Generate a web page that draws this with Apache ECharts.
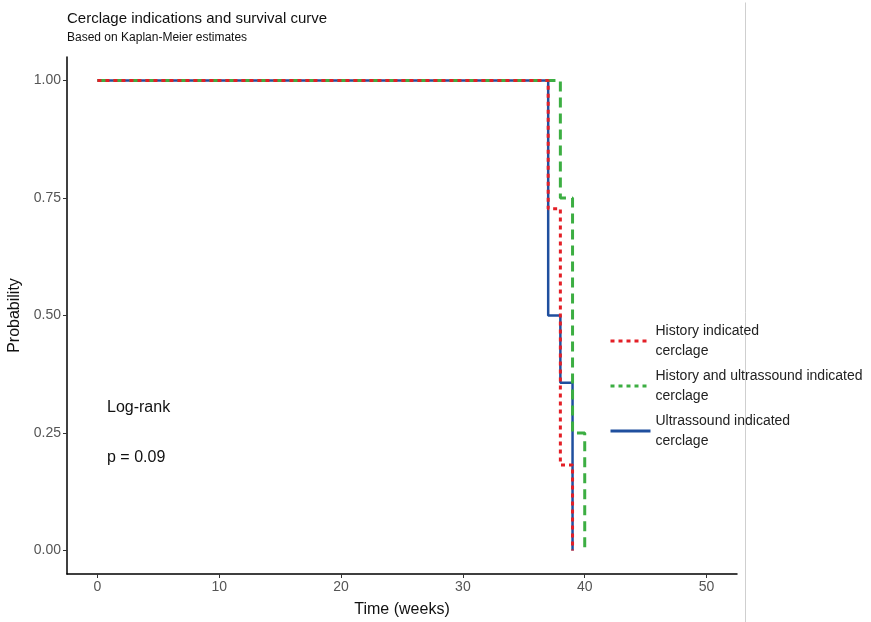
<!DOCTYPE html>
<html>
<head>
<meta charset="utf-8">
<script src="https://cdn.jsdelivr.net/npm/echarts@6/dist/echarts.min.js"></script>
<style>
  html, body { margin: 0; padding: 0; background: #fff; }
  #chart { width: 871px; height: 622px; }
</style>
</head>
<body>
<div id="chart"></div>
<script>
// survival steps: [week, probability]
const historyPts = [[0, 1], [37, 0.727], [38, 0.182], [39, 0]];
const bothPts = [[0, 1], [38, 0.75], [39, 0.25], [40, 0]];
const ultraPts = [[0, 1], [37, 0.5], [38, 0.357], [39, 0]];
const xTicks = [0, 10, 20, 30, 40, 50];
const yTicks = [0, 0.25, 0.5, 0.75, 1];
const seriesNames = [
  'History indicated\ncerclage',
  'History and ultrassound indicated\ncerclage',
  'Ultrassound indicated\ncerclage'
];

const myChart = echarts.init(document.getElementById('chart'));
const font = 'Liberation Sans, Arial, sans-serif';

const option = {
  animation: false,
  title: {
    text: 'Cerclage indications and survival curve',
    subtext: 'Based on Kaplan-Meier estimates',
    left: 62,
    top: 6,
    itemGap: 6,
    textStyle: { fontFamily: font, fontSize: 15, fontWeight: 'normal', color: '#111' },
    subtextStyle: { fontFamily: font, fontSize: 12, color: '#111' }
  },
  grid: { left: 67, right: 134, top: 57, bottom: 48, outerBoundsMode: 'none', containLabel: false },
  legend: {
    orient: 'vertical',
    left: 604,
    top: 316,
    itemWidth: 40,
    itemHeight: 10,
    itemGap: 5,
    itemStyle: { opacity: 0 },
    textStyle: { fontFamily: font, fontSize: 14, color: '#222', lineHeight: 20 },
    data: [
      { name: seriesNames[0], lineStyle: { type: [4, 4], width: 3 } },
      { name: seriesNames[1], lineStyle: { type: [4, 4], width: 3 } },
      { name: seriesNames[2], lineStyle: { type: 'solid', width: 3 } }
    ]
  },
  xAxis: {
    type: 'value',
    min: -2.5,
    max: 52.5,
    name: 'Time (weeks)',
    nameLocation: 'middle',
    nameGap: 28,
    nameTextStyle: { fontFamily: font, fontSize: 16, color: '#111' },
    splitLine: { show: false },
    axisLine: { onZero: false, lineStyle: { color: '#000', width: 1.5 } },
    axisTick: { customValues: xTicks, length: 4, lineStyle: { color: '#333' } },
    axisLabel: { customValues: xTicks, fontFamily: font, fontSize: 14, color: '#555', margin: 6 }
  },
  yAxis: {
    type: 'value',
    min: -0.05,
    max: 1.05,
    name: 'Probability',
    nameLocation: 'middle',
    nameGap: 40,
    nameTextStyle: { fontFamily: font, fontSize: 16, color: '#111' },
    splitLine: { show: false },
    axisLine: { show: true, onZero: false, lineStyle: { color: '#000', width: 1.5 } },
    axisTick: { show: true, customValues: yTicks, length: 4, lineStyle: { color: '#333' } },
    axisLabel: {
      customValues: yTicks, fontFamily: font, fontSize: 14, color: '#555', margin: 6,
      formatter: v => v.toFixed(2)
    }
  },
  series: [
    {
      name: seriesNames[2],
      type: 'line',
      step: 'end',
      data: ultraPts,
      symbol: 'none',
      z: 2,
      lineStyle: { color: '#1f4f9e', width: 2.5 },
      itemStyle: { color: '#1f6fc0' }
    },
    {
      name: seriesNames[1],
      type: 'line',
      step: 'end',
      data: bothPts,
      symbol: 'none',
      z: 3,
      lineStyle: { color: '#3cae42', width: 3, type: [10, 6] },
      itemStyle: { color: '#2aa05a' }
    },
    {
      name: seriesNames[0],
      type: 'line',
      step: 'end',
      data: historyPts,
      symbol: 'none',
      z: 4,
      lineStyle: { color: '#e31f26', width: 3, type: [4, 4] },
      itemStyle: { color: '#c8202a' }
    }
  ],
  graphic: [
    {
      type: 'text', left: 107, top: 400,
      style: { text: 'Log-rank', font: '16px Liberation Sans, Arial, sans-serif', fill: '#111' }
    },
    {
      type: 'text', left: 107, top: 450,
      style: { text: 'p = 0.09', font: '16px Liberation Sans, Arial, sans-serif', fill: '#111' }
    },
    {
      type: 'line', left: 743, top: 0,
      shape: { x1: 0, y1: 0, x2: 0, y2: 622 },
      style: { stroke: '#cfcfcf', lineWidth: 1 }
    }
  ]
};

myChart.setOption(option);
</script>
</body>
</html>
